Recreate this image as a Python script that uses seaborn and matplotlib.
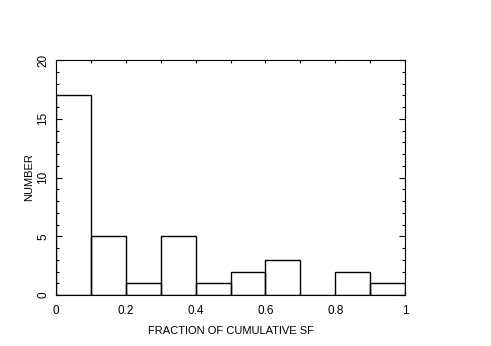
import numpy as np
import pandas as pd
import matplotlib
matplotlib.use('Agg')
import matplotlib.pyplot as plt
import seaborn as sns
from matplotlib.ticker import MultipleLocator, FuncFormatter

# histogram: bin edges and counts
bin_edges = [0.0, 0.1, 0.2, 0.3, 0.4, 0.5, 0.6, 0.7, 0.8, 0.9, 1.0]
bin_centers = [0.05, 0.15, 0.25, 0.35, 0.45, 0.55, 0.65, 0.75, 0.85, 0.95]
counts = [17, 5, 1, 5, 1, 2, 3, 0, 2, 1]

df = pd.DataFrame({'frac': bin_centers, 'n': counts})

sns.set_style('ticks')
plt.rcParams['font.family'] = ['Liberation Sans', 'DejaVu Sans']

fig = plt.figure(figsize=(4.91, 3.46), dpi=100)
ax = fig.add_axes([56 / 491, 1 - 295 / 346, 349 / 491, 235 / 346])

sns.histplot(data=df, x='frac', weights='n', bins=bin_edges, element='bars',
             fill=False, color='black', linewidth=1.0, ax=ax)

ax.set_xlim(0, 1)
ax.set_ylim(0, 20)
ax.xaxis.set_major_locator(MultipleLocator(0.2))
ax.xaxis.set_minor_locator(MultipleLocator(0.1))
ax.yaxis.set_major_locator(MultipleLocator(5))
ax.yaxis.set_minor_locator(MultipleLocator(1))
ax.xaxis.set_major_formatter(FuncFormatter(lambda v, p: f'{v:g}'))
ax.tick_params(which='both', direction='in', top=True, right=True, color='black', width=0.8,
               labelsize=8.5, labelcolor='black')
ax.tick_params(which='major', length=4)
ax.tick_params(which='minor', length=2.5)
ax.tick_params(axis='x', which='major', length=2.5)
ax.tick_params(axis='x', pad=7)
ax.tick_params(axis='y', pad=5)
for lbl in ax.get_yticklabels():
    lbl.set_rotation(90)
    lbl.set_va('center')

for s in ax.spines.values():
    s.set_color('black')
    s.set_linewidth(0.8)

ax.set_xlabel('FRACTION OF CUMULATIVE SF', fontsize=8, labelpad=7, color='black')
ax.set_ylabel('NUMBER', fontsize=8, labelpad=2, color='black')

fig.savefig('out.png', dpi=100)
